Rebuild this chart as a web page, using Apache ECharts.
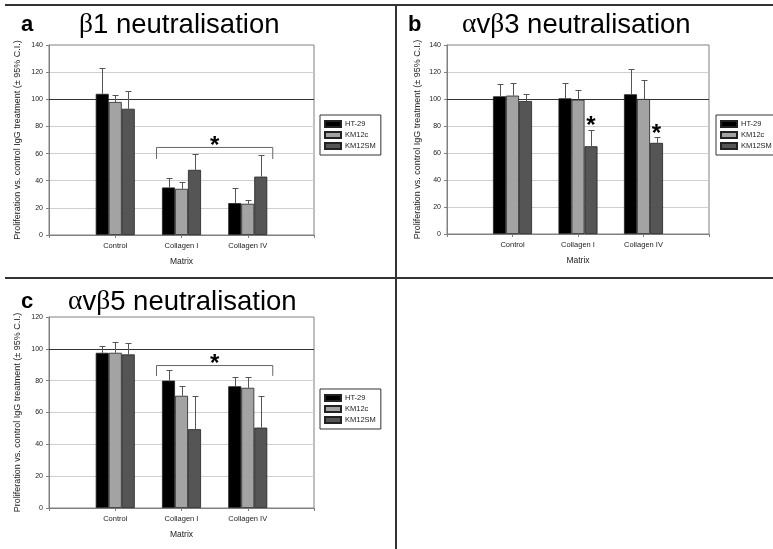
<!DOCTYPE html>
<html><head><meta charset="utf-8">
<script src="https://cdn.jsdelivr.net/npm/echarts@6/dist/echarts.min.js"></script>
<style>html,body{margin:0;padding:0;background:#fff}#c{width:773px;height:549px}</style>
</head><body><div id="c"></div>
<script>
// ---- data ----
const categories = ['Control', 'Collagen I', 'Collagen IV'];
const seriesNames = ['HT-29', 'KM12c', 'KM12SM'];
const seriesColors = ['#000000', '#a3a3a3', '#555555'];
const yLabel = 'Proliferation vs. control IgG treatment (\u00b1 95% C.I.)';
const xLabel = 'Matrix';

// panel a: beta1 neutralisation
const b1HT29 = [104, 35, 23.5];
const b1KM12c = [98, 34, 23];
const b1KM12SM = [93, 48, 43];
const b1HT29Ci = [123, 42, 34.5];
const b1KM12cCi = [103, 39, 25.5];
const b1KM12SMCi = [106, 60, 59];
const b1Ticks = [0, 140, 20];
const b1Bracket = [2, 3, 64.5, 56, 70]; // from, to (axis slot), level, end, star

// panel b: alpha-v beta3 neutralisation
const b3HT29 = [102, 100.5, 103.5];
const b3KM12c = [102.5, 99.5, 100];
const b3KM12SM = [98.5, 65, 67.5];
const b3HT29Ci = [111, 111.5, 122];
const b3KM12cCi = [111.5, 107, 114];
const b3KM12SMCi = [104, 77, 71.5];
const b3Ticks = [0, 140, 20];
const b3Stars = [[2, 2, 84], [3, 2, 78]]; // slot, series, value

// panel c: alpha-v beta5 neutralisation
const b5HT29 = [97.5, 80, 76.5];
const b5KM12c = [97.5, 70.5, 75.5];
const b5KM12SM = [96.5, 49.5, 50.5];
const b5HT29Ci = [101.5, 87, 82.5];
const b5KM12cCi = [104.5, 76.5, 82.5];
const b5KM12SMCi = [103.5, 70.5, 70.5];
const b5Ticks = [0, 120, 20];
const b5Bracket = [2, 3, 89.5, 83, 94];

const refLevel = 100;

// ---- build ----
const BAR_W = 13;
const FONT = 'Liberation Sans, Arial, sans-serif';
const axisCats = [''].concat(categories, ['']);
const pad = a => ['-'].concat(a, ['-']);

const panels = [
  {means: [b1HT29, b1KM12c, b1KM12SM], ci: [b1HT29Ci, b1KM12cCi, b1KM12SMCi], ticks: b1Ticks,
   grid: {left: 49, top: 45, width: 265, height: 190}, legend: {left: 320, top: 115}, yGap: 27,
   bracket: b1Bracket},
  {means: [b3HT29, b3KM12c, b3KM12SM], ci: [b3HT29Ci, b3KM12cCi, b3KM12SMCi], ticks: b3Ticks,
   grid: {left: 447, top: 45, width: 262, height: 189}, legend: {left: 716, top: 115}, yGap: 25,
   stars: b3Stars},
  {means: [b5HT29, b5KM12c, b5KM12SM], ci: [b5HT29Ci, b5KM12cCi, b5KM12SMCi], ticks: b5Ticks,
   grid: {left: 49, top: 317, width: 265, height: 191}, legend: {left: 320, top: 389}, yGap: 27,
   bracket: b5Bracket}
];

const grids = [], xAxes = [], yAxes = [], series = [], legends = [];

function errRender(params, api) {
  const cat = api.value(0), s = api.value(1);
  const base = api.coord([cat, api.value(2)]);
  const top = api.coord([cat, api.value(3)]);
  const x = Math.round(base[0] + (s - 1) * BAR_W) + 0.5;
  const yt = Math.round(top[1]) + 0.5;
  return {type: 'group', children: [
    {type: 'line', shape: {x1: x, y1: base[1], x2: x, y2: yt}, style: {stroke: '#555', lineWidth: 1}},
    {type: 'line', shape: {x1: x - 3, y1: yt, x2: x + 3, y2: yt}, style: {stroke: '#555', lineWidth: 1}}
  ]};
}
function refRender(params, api) {
  const cs = params.coordSys;
  const y = Math.round(api.coord([0, api.value(0)])[1]) + 0.5;
  return {type: 'line', shape: {x1: cs.x, y1: y, x2: cs.x + cs.width, y2: y}, style: {stroke: '#333', lineWidth: 1}};
}
function bracketRender(params, api) {
  const l = api.coord([api.value(0), api.value(2)]);
  const r = api.coord([api.value(1), api.value(2)]);
  const e = api.coord([api.value(0), api.value(3)]);
  const st = api.coord([api.value(0), api.value(4)]);
  const xl = l[0] - 25, xr = r[0] + 25;
  return {type: 'group', children: [
    {type: 'polyline', shape: {points: [[xl, e[1]], [xl, l[1]], [xr, l[1]], [xr, e[1]]]}, style: {stroke: '#666', lineWidth: 1, fill: null}},
    {type: 'text', style: {text: '*', x: (l[0] + r[0]) / 2, y: st[1] + 6, font: 'bold 24px ' + FONT, fill: '#000', align: 'center', verticalAlign: 'middle'}}
  ]};
}
function starRender(params, api) {
  const p = api.coord([api.value(0), api.value(2)]);
  const x = p[0] + (api.value(1) - 1) * BAR_W;
  return {type: 'text', style: {text: '*', x: x, y: p[1] + 6, font: 'bold 24px ' + FONT, fill: '#000', align: 'center', verticalAlign: 'middle'}};
}

panels.forEach((p, k) => {
  grids.push(Object.assign({show: true, borderColor: '#808080', borderWidth: 1, backgroundColor: '#fff', containLabel: false}, p.grid));
  xAxes.push({
    type: 'category', gridIndex: k, data: axisCats, boundaryGap: false,
    axisLine: {lineStyle: {color: '#808080'}},
    axisTick: {show: true, interval: 0, length: 3, lineStyle: {color: '#808080'}},
    axisLabel: {interval: 0, fontSize: 7.5, fontFamily: FONT, color: '#222', margin: 7},
    splitLine: {show: false},
    name: xLabel, nameLocation: 'middle', nameGap: 22.5,
    nameTextStyle: {fontSize: 8.5, fontFamily: FONT, color: '#222'}
  });
  yAxes.push({
    type: 'value', gridIndex: k, min: p.ticks[0], max: p.ticks[1], interval: p.ticks[2],
    axisLine: {show: true, lineStyle: {color: '#808080'}},
    axisTick: {show: true, length: 3, lineStyle: {color: '#808080'}},
    axisLabel: {fontSize: 7, fontFamily: FONT, color: '#222', margin: 6},
    splitLine: {show: true, showMinLine: false, showMaxLine: false, lineStyle: {color: '#cfcfcf', width: 1}},
    name: yLabel, nameLocation: 'middle', nameGap: p.yGap,
    nameTextStyle: {fontSize: 9, fontFamily: FONT, color: '#222'}
  });
  series.push({type: 'custom', name: 'ref' + k, xAxisIndex: k, yAxisIndex: k, z: 1, silent: true,
    renderItem: refRender, data: [[refLevel]], encode: {y: 0}});
  seriesNames.forEach((nm, s) => {
    series.push({
      type: 'bar', name: nm, xAxisIndex: k, yAxisIndex: k, data: pad(p.means[s]),
      barWidth: BAR_W, barGap: '0%', z: 2, silent: true,
      itemStyle: {color: seriesColors[s], borderColor: '#222', borderWidth: 0.8}
    });
  });
  const err = [];
  seriesNames.forEach((nm, s) => p.means[s].forEach((v, i) => err.push([i + 1, s, v, p.ci[s][i]])));
  series.push({type: 'custom', name: 'err' + k, xAxisIndex: k, yAxisIndex: k, z: 3, silent: true,
    renderItem: errRender, data: err, encode: {x: 0, y: [2, 3]}});
  if (p.bracket) {
    series.push({type: 'custom', name: 'br' + k, xAxisIndex: k, yAxisIndex: k, z: 4, silent: true,
      renderItem: bracketRender, data: [p.bracket], encode: {x: 0, y: 2}});
  }
  if (p.stars) {
    series.push({type: 'custom', name: 'st' + k, xAxisIndex: k, yAxisIndex: k, z: 4, silent: true,
      renderItem: starRender, data: p.stars, encode: {x: 0, y: 2}});
  }
  legends.push({
    data: seriesNames, orient: 'vertical', left: p.legend.left, top: p.legend.top,
    borderColor: '#333', borderWidth: 1, padding: [5, 5, 5, 4], itemGap: 3,
    itemWidth: 16, itemHeight: 6, icon: 'rect', selectedMode: false,
    textStyle: {fontSize: 7.5, fontFamily: FONT, color: '#222', padding: [0, 0, 0, -1]}
  });
});

function titleText(label, left, top) {
  return {text: label, left: left, top: top, padding: 0,
    textStyle: {fontSize: 22, fontWeight: 'bold', fontFamily: FONT, color: '#000'}};
}
function titleMain(txt, left, top, size) {
  return {text: txt, left: left, top: top, padding: 0,
    textStyle: {fontSize: size, fontWeight: 'normal', fontFamily: FONT, color: '#000',
      rich: {g: {fontFamily: 'Liberation Serif, DejaVu Serif, serif', fontSize: size, color: '#000'},
             n: {fontFamily: FONT, fontSize: size, color: '#000'}}}};
}

const chart = echarts.init(document.getElementById('c'), null, {renderer: 'canvas'});
chart.setOption({
  animation: false,
  backgroundColor: '#fff',
  title: [
    titleText('a', 21, 14),
    titleMain('{g|\u03b2}{n|1 neutralisation}', 79, 11, 27.5),
    titleText('b', 408, 14),
    titleMain('{g|\u03b1}{n|v}{g|\u03b2}{n|3 neutralisation}', 462, 11, 27.5),
    titleText('c', 21, 291),
    titleMain('{g|\u03b1}{n|v}{g|\u03b2}{n|5 neutralisation}', 68, 288, 27.5)
  ],
  grid: grids, xAxis: xAxes, yAxis: yAxes, series: series, legend: legends,
  graphic: [
    {type: 'line', shape: {x1: 5, y1: 5, x2: 773, y2: 5}, style: {stroke: '#333', lineWidth: 2}, silent: true},
    {type: 'line', shape: {x1: 396, y1: 5, x2: 396, y2: 549}, style: {stroke: '#333', lineWidth: 2}, silent: true},
    {type: 'line', shape: {x1: 5, y1: 278, x2: 773, y2: 278}, style: {stroke: '#333', lineWidth: 2}, silent: true}
  ]
});
</script>
</body></html>
